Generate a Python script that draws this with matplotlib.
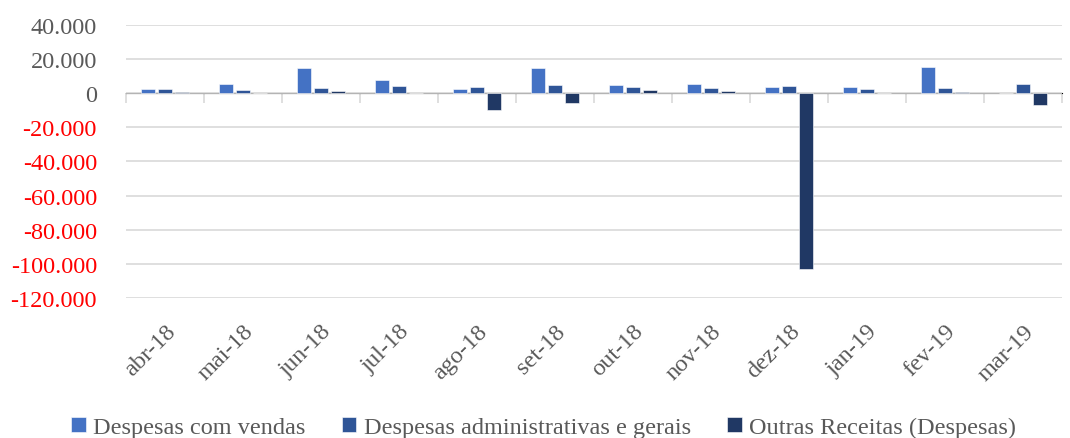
import matplotlib.pyplot as plt
import numpy as np

plt.rcParams["font.family"] = ["Liberation Serif", "DejaVu Serif"]

months = ["abr-18", "mai-18", "jun-18", "jul-18", "ago-18", "set-18",
          "out-18", "nov-18", "dez-18", "jan-19", "fev-19", "mar-19"]
vendas = [2700, 5300, 14600, 7800, 2500, 14600, 4700, 5300, 3500, 3500, 15600, 0]
administrativas = [2300, 1800, 3300, 4500, 3500, 4700, 3500, 2900, 4100, 2300, 2900, 5700]
outras = [1000, 0, 1500, 200, -10100, -5700, 1800, 1100, -103000, 300, 500, -7000]

series = [
    ("Despesas com vendas", vendas, "#4472C4"),
    ("Despesas administrativas e gerais", administrativas, "#2F5597"),
    ("Outras Receitas (Despesas)", outras, "#203864"),
]
gray = "#595959"
grid_gray = "#D9D9D9"

fig = plt.figure(figsize=(10.7, 4.39), dpi=100)
ax = fig.add_axes([0.1178, 0.3189, 0.8747, 0.6219])

x = np.arange(len(months))
step = 0.222
width = 0.179
for i, (name, vals, color) in enumerate(series):
    ax.bar(x + (i - 1) * step, vals, width, color=color, label=name,
           edgecolor="white", linewidth=0.4, zorder=3)

yticks = np.arange(-120000, 40001, 20000)
ax.set_xlim(-0.5, len(months) - 0.5)
ax.set_ylim(-120000, 40000)
ax.set_yticks(yticks)
ax.set_yticklabels([f"{v:,.0f}".replace(",", ".") for v in yticks])
for lbl, v in zip(ax.get_yticklabels(), yticks):
    lbl.set_color("#FF0000" if v < 0 else gray)
ax.tick_params(axis="y", length=0, labelsize=17.5, pad=21)
ax.grid(axis="y", color=grid_gray, linewidth=1.2, zorder=0)
for s in ax.spines.values():
    s.set_visible(False)

ax.set_xticks(x)
ax.set_xticklabels(months, rotation=45, ha="right", va="top",
                   rotation_mode="anchor", color=gray, fontsize=17.5)
ax.tick_params(axis="x", length=0, pad=16)

# zero axis line with category boundary ticks
zero = ax.secondary_xaxis(0.75)
zero.set_xticks(np.arange(-0.5, len(months), 1.0))
zero.set_xticklabels([])
zero.xaxis.set_ticks_position("bottom")
zero.tick_params(axis="x", direction="out", length=7, width=1.2, color=grid_gray,
                 labelbottom=False, labeltop=False)
zero.spines["bottom"].set_color(grid_gray)
zero.spines["bottom"].set_linewidth(1.2)

fig.legend(loc="lower center", bbox_to_anchor=(0.508, -0.05), ncol=3, frameon=False,
           fontsize=17.5, labelcolor=gray, handlelength=0.6, handleheight=0.6,
           handletextpad=0.3, columnspacing=1.5)

fig.savefig("out.png", dpi=100)
